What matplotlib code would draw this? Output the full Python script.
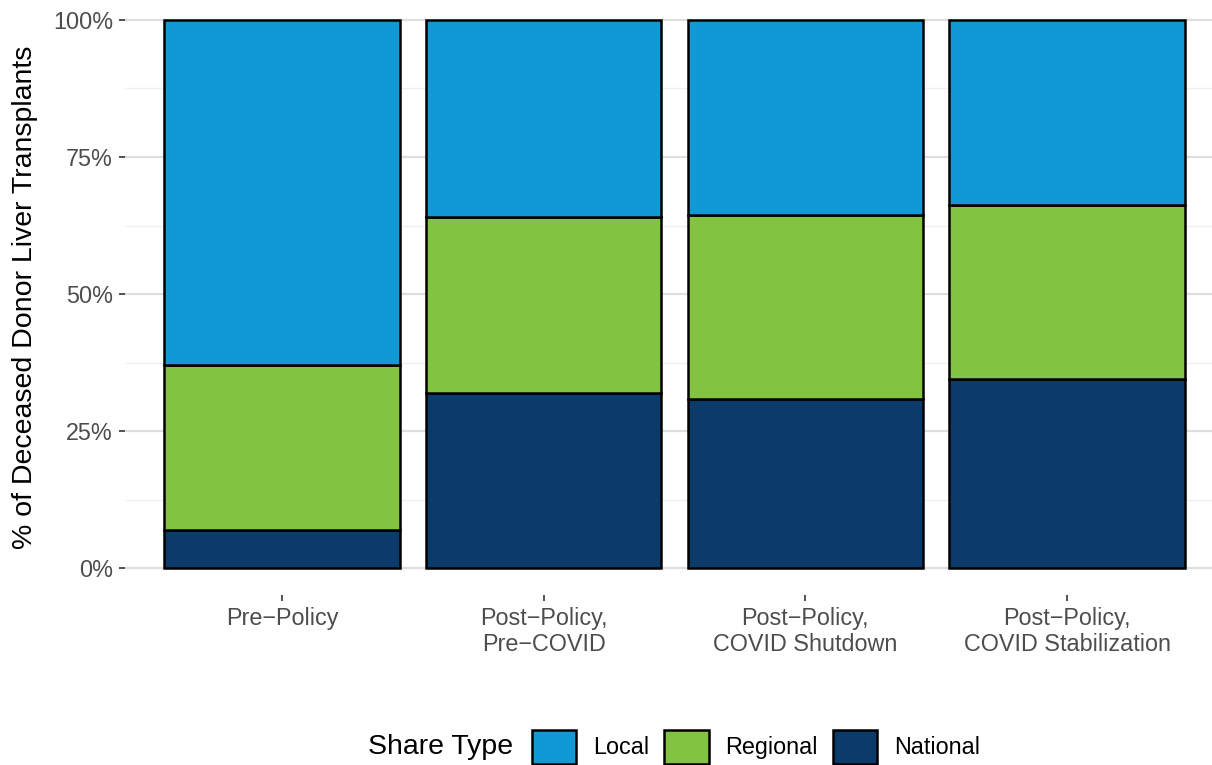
import numpy as np
import matplotlib
matplotlib.use("Agg")
import matplotlib.pyplot as plt
from matplotlib.patches import Patch
from matplotlib.ticker import FuncFormatter, MultipleLocator

plt.rcParams['font.family'] = ['Liberation Sans', 'DejaVu Sans']

# Dados (% dos transplantes)
categories = ["Pre\u2212Policy", "Post\u2212Policy,\nPre\u2212COVID",
              "Post\u2212Policy,\nCOVID Shutdown", "Post\u2212Policy,\nCOVID Stabilization"]
national = [6.9, 31.9, 30.8, 34.5]
regional = [30.1, 32.1, 33.6, 31.7]
local = [63.0, 36.0, 35.6, 33.8]

share_types = ["Local", "Regional", "National"]
colors = {"Local": "#1199D6", "Regional": "#82C341", "National": "#0B3B6B"}

W, H = 1212, 765
fig = plt.figure(figsize=(W / 100, H / 100), dpi=100)
ax = fig.add_axes([125 / W, (H - 595) / H, (W - 125) / W, 595 / H])

x = np.arange(len(categories))
width = 0.9
edge = dict(edgecolor='black', linewidth=1.8, zorder=3)

# Barras empilhadas: National embaixo, Regional no meio, Local em cima
ax.bar(x, national, width, color=colors["National"], **edge)
ax.bar(x, regional, width, bottom=national, color=colors["Regional"], **edge)
bottom2 = np.array(national) + np.array(regional)
ax.bar(x, local, width, bottom=bottom2, color=colors["Local"], **edge)

# *** Configurações do plot ***
ax.set_xlim(-0.6, 3 + (W - 1067) / 261.7)
ax.set_ylim(-27 / 548 * 100, 100 + 20 / 548 * 100)
ax.yaxis.set_major_locator(MultipleLocator(25))
ax.yaxis.set_minor_locator(MultipleLocator(12.5))
ax.yaxis.set_major_formatter(FuncFormatter(lambda v, p: f"{v:.0f}%"))
ax.set_yticks([0, 25, 50, 75, 100])
ax.grid(which='major', axis='y', color='#DEDEDE', linewidth=1.6, zorder=0)
ax.grid(which='minor', axis='y', color='#EFEFEF', linewidth=0.9, zorder=0)
ax.tick_params(which='minor', length=0)
ax.set_axisbelow(True)

for s in ax.spines.values():
    s.set_visible(False)

ax.set_xticks(x)
ax.set_xticklabels(categories)
ax.tick_params(axis='x', length=4.3, width=1.2, color='#333333', pad=4.0,
               labelsize=16.8, labelcolor='#4D4D4D')
ax.tick_params(axis='y', which='major', length=4.3, width=1.2, color='#333333',
               pad=4.3, labelsize=16.8, labelcolor='#4D4D4D')

ax.set_ylabel('% of Deceased Donor Liver Transplants', fontsize=20.5, color='black')
ax.yaxis.set_label_coords((38 - 125) / (W - 125), 0.5)

# Legenda horizontal na parte de baixo
fig.text(368 / W, (H - 747) / H, 'Share Type', fontsize=20.5, va='center', ha='left')
handles = [Patch(facecolor=colors[s], edgecolor='black', linewidth=1.8) for s in share_types]
fig.legend(handles, share_types, ncol=3, loc='center left',
           bbox_to_anchor=(532 / W, (H - 747) / H), frameon=False,
           fontsize=16.8, handlelength=1.9, handleheight=1.9,
           handletextpad=0.72, columnspacing=0.64, borderpad=0, borderaxespad=0)

fig.savefig('out.png', dpi=100)
